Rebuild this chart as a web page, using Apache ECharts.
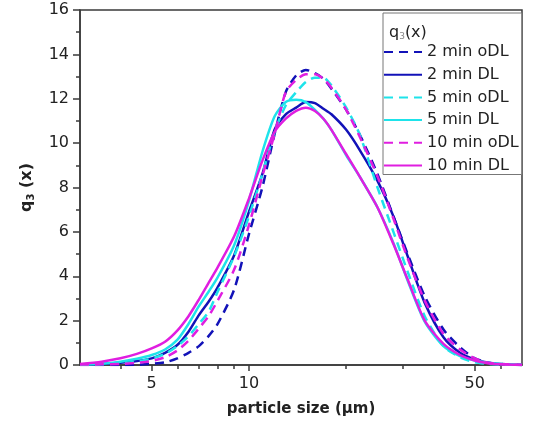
<!DOCTYPE html>
<html>
<head>
<meta charset="utf-8">
<script src="https://cdn.jsdelivr.net/npm/echarts@6/dist/echarts.min.js"></script>
<style>
  html, body { margin: 0; padding: 0; background: #fff; }
  #chart { width: 553px; height: 434px; }
</style>
</head>
<body>
<div id="chart"></div>
<script>
// particle size classes (µm)
const sizes = [3, 3.5, 4, 4.5, 5, 5.5, 6, 6.5, 7, 7.5, 8, 9, 10, 11, 12, 13, 14, 15, 16, 17, 18, 20, 22, 25, 28, 31, 35, 40, 45, 50, 55, 60, 70];

// q3(x) values
const min2oDL  = [0, 0, 0, 0.01, 0.05, 0.12, 0.3, 0.55, 0.85, 1.3, 1.85, 3.4, 5.9, 8.0, 10.4, 12.3, 13.05, 13.3, 13.15, 12.9, 12.45, 11.5, 10.4, 8.6, 6.7, 5.0, 3.1, 1.6, 0.8, 0.3, 0.1, 0.05, 0];
const min2DL   = [0.01, 0.04, 0.1, 0.18, 0.3, 0.55, 0.9, 1.5, 2.25, 2.85, 3.5, 4.95, 6.9, 8.6, 10.6, 11.3, 11.6, 11.85, 11.8, 11.55, 11.3, 10.6, 9.7, 8.3, 6.7, 4.9, 2.8, 1.25, 0.55, 0.25, 0.1, 0.04, 0];
const min5oDL  = [0.01, 0.03, 0.08, 0.15, 0.3, 0.5, 0.85, 1.3, 1.85, 2.4, 3.3, 4.9, 6.7, 8.6, 10.5, 11.7, 12.3, 12.75, 12.95, 12.95, 12.6, 11.6, 10.4, 8.0, 6.0, 4.2, 2.2, 0.85, 0.35, 0.12, 0.05, 0.02, 0];
const min5DL   = [0.02, 0.06, 0.15, 0.28, 0.45, 0.7, 1.13, 1.85, 2.65, 3.3, 3.95, 5.4, 7.4, 9.6, 11.2, 11.85, 11.95, 11.85, 11.5, 11.1, 10.6, 9.45, 8.5, 7.1, 5.5, 3.8, 1.95, 0.85, 0.4, 0.2, 0.1, 0.05, 0];
const min10oDL = [0.02, 0.03, 0.05, 0.1, 0.18, 0.35, 0.65, 1.1, 1.65, 2.2, 2.9, 4.3, 6.3, 8.5, 10.4, 12.3, 12.85, 13.1, 13.1, 12.9, 12.5, 11.5, 10.3, 8.5, 6.6, 4.8, 2.9, 1.4, 0.7, 0.3, 0.1, 0.05, 0];
const min10DL  = [0.05, 0.15, 0.3, 0.5, 0.75, 1.05, 1.55, 2.2, 2.95, 3.7, 4.4, 5.8, 7.5, 9.2, 10.5, 11.1, 11.45, 11.6, 11.45, 11.1, 10.6, 9.5, 8.5, 7.1, 5.45, 3.85, 2.0, 0.95, 0.45, 0.2, 0.08, 0.03, 0];

const seriesNames = ['2 min oDL', '2 min DL', '5 min oDL', '5 min DL', '10 min oDL', '10 min DL'];
const seriesValues = [min2oDL, min2DL, min5oDL, min5DL, min10oDL, min10DL];
const seriesColors = ['#1212b8', '#1212b8', '#1ee3ea', '#1ee3ea', '#e01ee0', '#e01ee0'];
const seriesDashed = [true, false, true, false, true, false];

const xLabelTicks = [5, 10, 50];
const xMinorTicks = [4, 6, 7, 8, 9, 20, 30, 40, 60];

const font = 'DejaVu Sans';
const axisColor = '#3a3a3a';

const chart = echarts.init(document.getElementById('chart'));

const option = {
  animation: false,
  title: {
    left: 384,
    top: 19,
    text: '{a|q}{s|3}{a|(x)}',
    textStyle: {
      fontWeight: 'normal',
      rich: {
        a: { fontFamily: font, fontSize: 16, fontWeight: 'normal', color: '#222' },
        s: { fontFamily: font, fontSize: 9, fontWeight: 'normal', color: '#888', verticalAlign: 'bottom', padding: [8, 0, 0, 0] }
      }
    }
  },
  legend: {
    orient: 'vertical',
    left: 383,
    top: 13,
    padding: [30, 3, 0, 0],
    itemWidth: 38,
    itemHeight: 14,
    itemGap: 4.7,
    borderColor: '#777',
    borderWidth: 1,
    backgroundColor: '#fff',
    itemStyle: { opacity: 0 },
    textStyle: { fontFamily: font, fontSize: 16, color: '#222', lineHeight: 18 },
    data: seriesNames
  },
  grid: {
    left: 80, top: 10, right: 31, bottom: 69,
    show: true,
    borderColor: axisColor,
    borderWidth: 1.5
  },
  xAxis: [
    {
      type: 'log',
      logBase: 10,
      min: 3,
      max: 70,
      name: 'particle size (µm)',
      nameLocation: 'middle',
      nameGap: 37,
      nameTextStyle: { fontFamily: font, fontSize: 15, fontWeight: 'bold', color: '#222' },
      axisLine: { lineStyle: { color: axisColor, width: 1.5 } },
      axisTick: { show: true, length: 6, inside: false, customValues: xLabelTicks, lineStyle: { color: axisColor, width: 1.5 } },
      axisLabel: { customValues: xLabelTicks, margin: 11, fontFamily: font, fontSize: 16, color: '#222' },
      splitLine: { show: false },
      minorTick: { show: false }
    },
    {
      type: 'log',
      logBase: 10,
      min: 3,
      max: 70,
      position: 'bottom',
      axisLine: { show: false },
      axisTick: { show: true, length: 4, customValues: xMinorTicks, lineStyle: { color: axisColor, width: 1.5 } },
      axisLabel: { show: false },
      splitLine: { show: false }
    }
  ],
  yAxis: {
    type: 'value',
    min: 0,
    max: 16,
    interval: 2,
    name: '{q|q}{s|3}{q| (x)}',
    nameLocation: 'middle',
    nameGap: 44,
    nameRotate: 90,
    nameTextStyle: {
      rich: {
        q: { fontFamily: font, fontSize: 16, fontWeight: 'bold', color: '#222' },
        s: { fontFamily: font, fontSize: 10, fontWeight: 'bold', color: '#222', verticalAlign: 'bottom', padding: [8, 0, 0, 0] }
      }
    },
    axisLine: { show: true, lineStyle: { color: axisColor, width: 1.5 } },
    axisTick: { show: true, length: 7, lineStyle: { color: axisColor, width: 1.5 } },
    minorTick: { show: true, splitNumber: 2, length: 4, lineStyle: { color: axisColor, width: 1.5 } },
    axisLabel: { margin: 11, fontFamily: font, fontSize: 16, color: '#222' },
    splitLine: { show: false }
  },
  series: seriesNames.map((name, k) => ({
    name: name,
    type: 'line',
    xAxisIndex: 0,
    symbol: 'none',
    smooth: 0.25,
    color: seriesColors[k],
    lineStyle: {
      color: seriesColors[k],
      width: 2.5,
      type: seriesDashed[k] ? [9, 6] : 'solid'
    },
    data: sizes.map((x, i) => [x, seriesValues[k][i]])
  }))
};

chart.setOption(option);
</script>
</body>
</html>
